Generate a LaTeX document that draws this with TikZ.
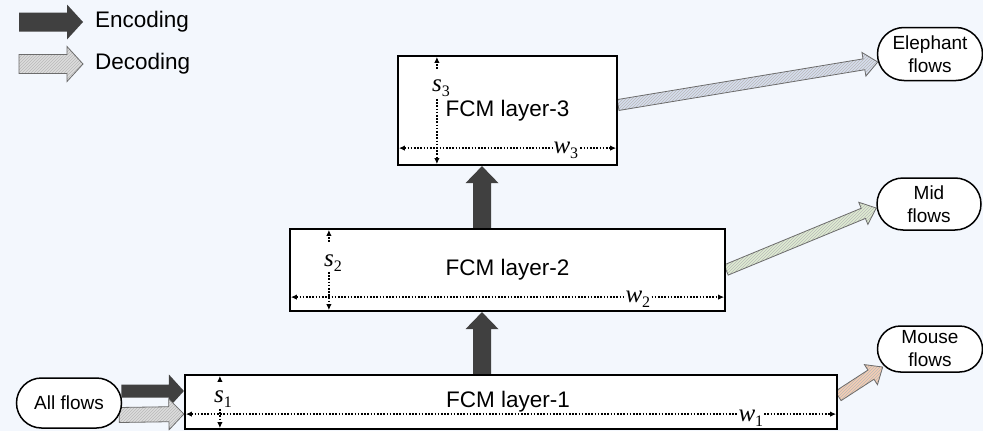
\documentclass[tikz,border=0pt]{standalone}
\usepackage{fontspec}
\setmainfont{Liberation Sans}
\newfontfamily\dimfont{Liberation Serif}
\usetikzlibrary{arrows.meta,calc,patterns,shapes.misc}

\definecolor{bgcol}{HTML}{F3F7FD}
\definecolor{encdark}{HTML}{404040}
\definecolor{decgray}{HTML}{DCDCDC}
\definecolor{decblue}{HTML}{D6DEEE}
\definecolor{decgreen}{HTML}{DFEDD2}
\definecolor{decpeach}{HTML}{F5CDB3}

\pgfdeclarelayer{back}
\pgfdeclarelayer{arrowlayer}
\pgfsetlayers{back,arrowlayer,main}

% block arrow: style, from, to, shaft half-width, head half-width, head length
\newcommand\blockarrow[6]{%
  \path[#1] let \p1=#2, \p2=#3,
    \n1={atan2(\y2-\y1,\x2-\x1)}, \n2={veclen(\x2-\x1,\y2-\y1)}
  in [shift={(\p1)}, rotate=\n1]
    (0,#4) -- ({\n2-#6},#4) -- ({\n2-#6},#5) -- ({\n2},0)
    -- ({\n2-#6},-#5) -- ({\n2-#6},-#4) -- (0,-#4) -- cycle;}

% italic dimension symbol with an upright index
\newcommand\dimsym[2]{{\dimfont\itshape #1}\raisebox{-5pt}{\dimfont\fontsize{16}{16}\selectfont #2}}

\begin{document}
\begin{tikzpicture}[x=1pt,y=-1pt,
  layerbox/.style={draw=black, line width=2.2pt, fill=white, inner sep=0pt,
    font=\fontsize{22.5}{26}\selectfont},
  flownode/.style={rounded rectangle, draw=black, line width=1.5pt, fill=white,
    align=center, inner sep=0pt, font=\fontsize{19}{23}\selectfont},
  legendtext/.style={anchor=west, inner sep=0pt, font=\fontsize{22.5}{26}\selectfont},
  enc/.style={fill=encdark},
  dec/.style={preaction={fill=#1}, pattern=north east lines, pattern color=gray!55,
    draw=gray!85!black, line width=0.8pt},
  dimbase/.style={line width=1.6pt, dash pattern=on 1.6pt off 1.6pt},
  dimone/.style={dimbase, -{Latex[length=6pt,width=5.5pt]}},
  dimtwo/.style={dimbase, {Latex[length=6pt,width=5.5pt]}-{Latex[length=6pt,width=5.5pt]}},
  dimlbl/.style={fill=white, inner sep=0.5pt, font=\fontsize{25}{27}\selectfont},
]
\begin{pgfonlayer}{back}
  \fill[bgcol] (0,0) rectangle (983,431);
\end{pgfonlayer}
\useasboundingbox (0,0) rectangle (983,431);

% legend
\coordinate (encA) at (19,22);
\coordinate (encB) at (83,22);
\coordinate (decA) at (19,64);
\coordinate (decB) at (83,64);
\blockarrow{enc}{(encA)}{(encB)}{9.5}{17.5}{16}
\blockarrow{dec=decgray}{(decA)}{(decB)}{9.5}{17.5}{16}
\node[legendtext] (encT) at (95,22) {Encoding};
\node[legendtext] (decT) at (95,64) {Decoding};

% the three FCM layers
\node[layerbox, minimum width=219pt, minimum height=109pt] (l3) at (507.5,110.5) {FCM layer-3};
\node[layerbox, minimum width=435pt, minimum height=82pt] (l2) at (507.5,270) {FCM layer-2};
\node[layerbox, minimum width=652pt, minimum height=54pt] (l1) at (511,402) {\hspace*{-6pt}FCM layer-1};

% flow classes
\node[flownode, minimum width=105pt, minimum height=50pt] (af) at (69,403) {All flows};
\node[flownode, minimum width=105pt, minimum height=53pt] (ele) at (930,54) {Elephant\\flows};
\node[flownode, minimum width=104pt, minimum height=52pt] (mid) at (929,204) {Mid\\flows};
\node[flownode, minimum width=105pt, minimum height=46pt] (mouse) at (930,349) {Mouse\\flows};

% connectors
\coordinate (upx) at (482,0);
\begin{pgfonlayer}{arrowlayer}
  \blockarrow{enc}{(l1.north -| upx)}{(l2.south -| upx)}{9}{16.5}{17}
  \blockarrow{enc}{(l2.north -| upx)}{(l3.south -| upx)}{9}{16.5}{17}
  \blockarrow{enc}{($(af.east)+(-1,-12)$)}{($(l1.west)+(0,-11)$)}{6.5}{16.5}{15}
  \blockarrow{dec=decgray}{($(af.east)+(-3,12)$)}{($(l1.west)+(0,12)$)}{7.5}{15.5}{15}
  \blockarrow{dec=decblue}{($(l3.east)+(0,-5.5)$)}{($(ele.west)+(1,8)$)}{5.5}{12}{14}
  \blockarrow{dec=decgreen}{(l2.east)}{($(mid.west)+(0,4)$)}{5.5}{12}{14}
  \blockarrow{dec=decpeach}{($(l1.east)+(0,-6)$)}{($(mouse.west)+(6,18)$)}{5.5}{12}{14}
\end{pgfonlayer}

% dimension markers, layer 3
\draw[dimone] ($(l3.north west)+(40,14)$) -- ($(l3.north west)+(40,2)$);
\node[dimlbl] (s3) at ($(l3.north west)+(44,33)$) {\dimsym{s}{3}};
\draw[dimone] ($(l3.north west)+(40,44)$) -- ($(l3.south west)+(40,-2)$);
\draw[dimtwo] ($(l3.south west)+(2,-18)$) -- ($(l3.south east)+(-2,-18)$);
\node[dimlbl] (w3) at ($(l3.south west)+(169,-16)$) {\dimsym{w}{3}};

% dimension markers, layer 2
\draw[dimone] ($(l2.north west)+(40,14)$) -- ($(l2.north west)+(40,2)$);
\node[dimlbl] (s2) at ($(l2.north west)+(44,35)$) {\dimsym{s}{2}};
\draw[dimone] ($(l2.north west)+(40,44)$) -- ($(l2.south west)+(40,-2)$);
\draw[dimtwo] ($(l2.south west)+(2,-15)$) -- ($(l2.south east)+(-2,-15)$);
\node[dimlbl] (w2) at ($(l2.south west)+(349,-13)$) {\dimsym{w}{2}};

% dimension markers, layer 1
\draw[dimone] ($(l1.north west)+(36,8)$) -- ($(l1.north west)+(36,2)$);
\node[dimlbl] (s1) at ($(l1.north west)+(39,25)$) {\dimsym{s}{1}};
\draw[dimone] ($(l1.north west)+(36,35)$) -- ($(l1.south west)+(36,-2)$);
\draw[dimtwo] ($(l1.south west)+(2,-16)$) -- ($(l1.south east)+(-2,-16)$);
\node[dimlbl] (w1) at ($(l1.south west)+(567,-12)$) {\dimsym{w}{1}};
\end{tikzpicture}
\end{document}
